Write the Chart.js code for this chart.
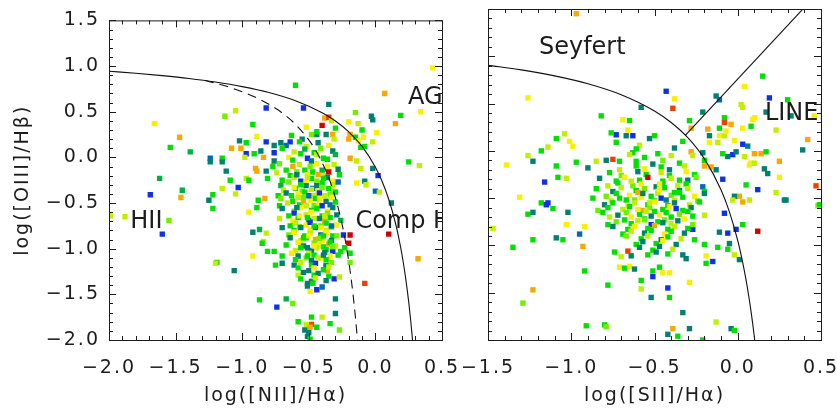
<!DOCTYPE html>
<html>
<head>
<meta charset="utf-8">
<script src="https://cdn.jsdelivr.net/npm/chart.js@4.4.1/dist/chart.umd.min.js"></script>
<style>
  html, body { margin: 0; padding: 0; background: #fff; }
  #wrap { position: relative; width: 837px; height: 412px; overflow: hidden; }
  #nii { position: absolute; left: 0; top: 0; }
  #sii { position: absolute; left: 458px; top: 0; }
</style>
</head>
<body>
<div id="wrap">
  <canvas id="nii" width="462" height="412"></canvas>
  <canvas id="sii" width="379" height="412"></canvas>
</div>
<script>
// colour levels used for the galaxies (blue -> red)
const colorLevels = ['#1030e8', '#0068b8', '#008070', '#00b040', '#00e000', '#70f000',
                     '#c0f000', '#f8f000', '#f8a800', '#f04000', '#d00000'];

const niiTicks = [-2.0, -1.5, -1.0, -0.5, 0.0, 0.5];
const siiTicks = [-1.5, -1.0, -0.5, 0.0, 0.5];
const oiiiTicks = [-2.0, -1.5, -1.0, -0.5, 0.0, 0.5, 1.0, 1.5];

// demarcation curves
const niiKewleyX = [-2.0, -1.8, -1.6, -1.4, -1.2, -1.0, -0.8, -0.6, -0.4, -0.3, -0.2, -0.1, 0.0, 0.05, 0.1, 0.15, 0.175, 0.2, 0.225, 0.25, 0.265, 0.279];
const niiKewleyY = [0.943, 0.921, 0.895, 0.864, 0.825, 0.775, 0.710, 0.620, 0.489, 0.398, 0.280, 0.120, -0.108, -0.262, -0.459, -0.716, -0.878, -1.069, -1.300, -1.583, -1.786, -2.004];
const niiKauffX = [-1.28, -1.2, -1.1, -1.0, -0.9, -0.8, -0.7, -0.6, -0.5, -0.45, -0.4, -0.35, -0.3, -0.25, -0.225, -0.2, -0.185, -0.17, -0.15, -0.135];
const niiKauffY = [0.841, 0.812, 0.770, 0.719, 0.658, 0.582, 0.487, 0.362, 0.191, 0.080, -0.056, -0.225, -0.443, -0.733, -0.918, -1.140, -1.296, -1.473, -1.750, -1.997];
const siiKewleyX = [-1.5, -1.3, -1.1, -0.9, -0.7, -0.5, -0.4, -0.3, -0.2, -0.1, -0.05, 0.0, 0.02, 0.04, 0.055, 0.07, 0.08, 0.09, 0.102];
const siiKewleyY = [0.904, 0.856, 0.793, 0.710, 0.594, 0.422, 0.300, 0.139, -0.085, -0.414, -0.646, -0.950, -1.100, -1.271, -1.417, -1.580, -1.700, -1.830, -2.003];
const siiLinerX = [-0.315, 0.5];
const siiLinerY = [0.165, 1.705];

// galaxies: [log NII/Ha, log OIII/Hb, colour level]
const niiGalaxies = [
  [0.43, 0.98, 7], [-0.60, 0.79, 4], [-0.35, 0.58, 2], [0.07, 0.70, 8], [0.34, 0.50, 7], [0.19, 0.46, 4],
  [0.15, 0.37, 8], [-0.03, 0.45, 2], [-0.02, 0.41, 2], [0.01, 0.27, 7], [-0.02, 0.17, 6], [0.25, -0.05, 4],
  [0.33, -0.09, 6], [-0.15, 0.49, 5], [-0.20, 0.39, 7], [-0.13, 0.37, 6], [-0.10, 0.30, 4], [-0.19, 0.25, 8],
  [-0.15, 0.22, 4], [-0.09, 0.22, 7], [-0.13, 0.18, 7], [-0.08, 0.12, 4], [-0.11, 0.11, 4], [-0.02, -0.12, 2],
  [0.02, -0.20, 0], [-0.08, -0.26, 2], [-0.07, -0.30, 6], [-0.14, -0.28, 7], [-0.19, -0.01, 8], [-0.14, -0.04, 6],
  [-0.11, -0.12, 6], [0.00, -0.37, 1], [0.03, -0.38, 6], [0.12, -0.50, 2], [-0.40, 0.35, 10], [-0.38, 0.43, 8],
  [-0.35, 0.44, 9], [-0.33, 0.40, 6], [-0.54, 0.54, 0], [-0.82, 0.54, 0], [-0.52, 0.33, 7], [-0.44, 0.25, 2],
  [-0.44, 0.28, 4], [-0.30, 0.32, 4], [-0.37, 0.25, 2], [-0.32, 0.25, 8], [-0.31, 0.20, 6], [-0.20, 0.20, 8],
  [-1.05, 0.51, 6], [-1.13, 0.45, 5], [-0.92, 0.36, 4], [-0.89, 0.23, 7], [-1.66, 0.37, 7], [-1.47, 0.22, 8],
  [-1.54, 0.11, 4], [-1.39, 0.06, 3], [-1.62, -0.23, 3], [-1.45, -0.36, 3], [-1.69, -0.41, 0], [-1.46, -0.44, 8],
  [-1.25, -0.47, 2], [-1.22, -0.41, 4], [-1.24, -0.01, 1], [-1.24, -0.05, 2], [-1.15, -0.01, 4], [-1.15, -0.05, 2],
  [-1.12, -0.15, 2], [-1.08, 0.10, 8], [-1.01, 0.10, 8], [-1.02, 0.18, 2], [-0.97, 0.16, 4], [-0.97, 0.04, 0],
  [-0.98, 0.00, 6], [-1.09, -0.25, 4], [-1.15, -0.34, 6], [-1.03, -0.33, 0], [-1.05, -0.40, 6], [-0.97, -0.23, 6],
  [-0.90, -0.12, 8], [-0.89, -0.15, 8], [-0.95, -0.25, 4], [-0.91, 0.04, 4], [-0.84, 0.00, 8], [-0.82, 0.17, 0],
  [-0.76, 0.13, 2], [-0.71, 0.16, 2], [-0.64, 0.17, 0], [-0.86, 0.07, 2], [-0.76, 0.05, 0], [-0.82, -0.15, 2],
  [-0.81, -0.23, 4], [-0.77, -0.10, 4], [-0.76, -0.04, 2], [-0.88, -0.47, 4], [-0.83, -0.45, 8], [-0.89, -0.55, 4],
  [-1.99, -0.64, 6], [-1.88, -0.65, 6], [-1.55, -0.69, 5], [-1.60, -0.84, 0], [-1.22, -0.56, 4], [-0.95, -0.60, 7],
  [-0.92, -0.82, 2], [-0.87, -0.79, 3], [-0.82, -0.83, 6], [-0.84, -0.92, 6], [-0.85, -0.94, 4], [-0.92, -1.08, 7],
  [-0.81, -1.03, 4], [-0.76, -1.03, 4], [-0.70, -1.08, 4], [-0.75, -1.18, 4], [-0.70, -1.16, 2], [-1.19, -1.15, 4],
  [-1.20, -1.16, 6], [-1.06, -1.24, 2], [-0.87, -1.56, 4], [-0.67, -1.55, 3], [-0.62, -1.60, 5], [-0.74, -1.64, 0],
  [-0.58, -1.80, 4], [-0.48, -1.75, 4], [-0.40, -1.75, 6], [-0.30, -1.71, 2], [-0.34, -1.82, 4], [-0.27, -1.89, 5],
  [-0.48, -1.83, 9], [-0.52, -1.83, 6], [-0.49, -1.86, 8], [-0.44, -1.86, 4], [-0.53, -1.89, 2], [-0.50, -1.92, 2],
  [-0.51, -1.96, 2], [-0.49, -1.99, 4], [-0.08, -1.38, 9], [0.32, -1.11, 8], [0.10, -0.84, 10], [-0.19, -0.85, 10],
  [-0.24, -0.85, 0], [-0.20, -0.94, 10], [-0.19, -1.05, 4], [-0.19, -1.15, 5], [-0.23, -0.99, 4], [-0.28, -1.07, 4],
  [-0.26, -1.03, 4], [-0.32, -1.03, 0], [-0.31, -1.33, 0], [-0.27, -1.31, 6], [-0.30, -1.55, 2], [-0.36, -1.24, 8],
  [-0.37, -1.18, 4], [-0.44, -1.45, 0], [-0.49, -1.47, 7], [-0.47, -1.36, 4], [-0.51, -1.38, 2], [-0.35, -0.95, 8],
  [-0.40, -0.91, 7], [-0.32, -0.86, 4],
  // dense star-forming branch
  [-0.63, 0.24, 4], [-0.55, 0.20, 2], [-0.48, 0.25, 5],
  [-0.67, 0.13, 1], [-0.57, 0.17, 4], [-0.52, 0.12, 6], [-0.43, 0.16, 2], [-0.35, 0.13, 7],
  [-0.70, 0.10, 4], [-0.61, 0.06, 6], [-0.53, 0.09, 3], [-0.46, 0.05, 4], [-0.41, 0.10, 5], [-0.32, 0.07, 2],
  [-0.65, 0.00, 7], [-0.56, 0.04, 4], [-0.51, -0.01, 0], [-0.44, 0.03, 6], [-0.39, -0.01, 4], [-0.30, 0.03, 3],
  [-0.72, -0.07, 5], [-0.62, -0.03, 4], [-0.57, -0.08, 6], [-0.48, -0.04, 2], [-0.44, -0.07, 7], [-0.36, -0.02, 4], [-0.31, -0.08, 6],
  [-0.67, -0.14, 4], [-0.62, -0.10, 8], [-0.53, -0.14, 4], [-0.49, -0.10, 5], [-0.40, -0.14, 3], [-0.36, -0.10, 7], [-0.28, -0.13, 2],
  [-0.74, -0.17, 6], [-0.64, -0.20, 4], [-0.59, -0.16, 5], [-0.51, -0.19, 7], [-0.47, -0.16, 4], [-0.39, -0.20, 6], [-0.35, -0.16, 10], [-0.27, -0.19, 4],
  [-0.70, -0.25, 4], [-0.61, -0.22, 6], [-0.56, -0.26, 0], [-0.48, -0.23, 4], [-0.44, -0.26, 5], [-0.36, -0.22, 2], [-0.32, -0.26, 7],
  [-0.71, -0.31, 3], [-0.65, -0.27, 5], [-0.56, -0.30, 4], [-0.52, -0.27, 7], [-0.44, -0.31, 2], [-0.40, -0.28, 4], [-0.32, -0.30, 6], [-0.28, -0.27, 1],
  [-0.69, -0.36, 6], [-0.60, -0.34, 4], [-0.55, -0.37, 5], [-0.47, -0.34, 1], [-0.43, -0.37, 7], [-0.35, -0.34, 4], [-0.31, -0.37, 6],
  [-0.73, -0.42, 4], [-0.67, -0.39, 2], [-0.58, -0.41, 7], [-0.53, -0.38, 4], [-0.46, -0.42, 6], [-0.42, -0.39, 0], [-0.34, -0.41, 5], [-0.30, -0.38, 4],
  [-0.71, -0.45, 5], [-0.62, -0.48, 4], [-0.58, -0.44, 6], [-0.49, -0.47, 7], [-0.45, -0.45, 4], [-0.37, -0.48, 2], [-0.33, -0.44, 7],
  [-0.72, -0.53, 4], [-0.66, -0.50, 6], [-0.57, -0.52, 4], [-0.54, -0.49, 8], [-0.46, -0.53, 5], [-0.42, -0.50, 7], [-0.34, -0.52, 1], [-0.30, -0.49, 4],
  [-0.70, -0.56, 2], [-0.61, -0.59, 5], [-0.56, -0.55, 7], [-0.48, -0.58, 4], [-0.44, -0.56, 6], [-0.36, -0.59, 7], [-0.32, -0.55, 2],
  [-0.65, -0.64, 4], [-0.61, -0.61, 0], [-0.52, -0.63, 6], [-0.48, -0.60, 7], [-0.40, -0.64, 4], [-0.36, -0.61, 5], [-0.29, -0.63, 2],
  [-0.72, -0.67, 6], [-0.62, -0.70, 7], [-0.58, -0.66, 4], [-0.50, -0.69, 2], [-0.46, -0.67, 6], [-0.38, -0.70, 8], [-0.34, -0.66, 4], [-0.26, -0.69, 3],
  [-0.64, -0.75, 4], [-0.60, -0.72, 6], [-0.52, -0.74, 7], [-0.49, -0.71, 0], [-0.41, -0.75, 5], [-0.37, -0.72, 4], [-0.29, -0.74, 7],
  [-0.70, -0.77, 2], [-0.61, -0.80, 4], [-0.57, -0.76, 5], [-0.49, -0.79, 7], [-0.45, -0.77, 2], [-0.37, -0.80, 6], [-0.33, -0.76, 4],
  [-0.65, -0.85, 5], [-0.61, -0.82, 7], [-0.53, -0.86, 4], [-0.49, -0.83, 6], [-0.41, -0.85, 1], [-0.37, -0.82, 7], [-0.29, -0.86, 5],
  [-0.64, -0.88, 2], [-0.56, -0.91, 6], [-0.52, -0.88, 4], [-0.45, -0.90, 8], [-0.41, -0.87, 4], [-0.33, -0.91, 2],
  [-0.67, -0.96, 4], [-0.58, -0.93, 7], [-0.54, -0.97, 2], [-0.46, -0.94, 5], [-0.42, -0.96, 7], [-0.34, -0.93, 4], [-0.30, -0.97, 6],
  [-0.60, -1.02, 6], [-0.56, -0.99, 4], [-0.48, -1.02, 1], [-0.44, -0.99, 6], [-0.37, -1.01, 4], [-0.32, -0.98, 5],
  [-0.63, -1.05, 7], [-0.58, -1.08, 2], [-0.50, -1.05, 6], [-0.46, -1.07, 4], [-0.38, -1.04, 2], [-0.34, -1.08, 7],
  [-0.60, -1.12, 4], [-0.52, -1.10, 5], [-0.48, -1.13, 2], [-0.41, -1.10, 7], [-0.37, -1.12, 4],
  [-0.61, -1.18, 2], [-0.56, -1.15, 6], [-0.48, -1.18, 4], [-0.45, -1.16, 0], [-0.37, -1.19, 2], [-0.33, -1.15, 5],
  [-0.58, -1.21, 4], [-0.50, -1.24, 2], [-0.46, -1.21, 7], [-0.39, -1.23, 4], [-0.35, -1.20, 6],
  [-0.58, -1.29, 6], [-0.54, -1.26, 2], [-0.46, -1.29, 4], [-0.43, -1.27, 2], [-0.35, -1.30, 4],
  [-0.56, -1.33, 4], [-0.48, -1.36, 2], [-0.45, -1.32, 6], [-0.37, -1.35, 2],
  [-0.51, -1.41, 2], [-0.47, -1.38, 4], [-0.40, -1.42, 1],
  [-0.59, -0.19, 2], [-0.51, -0.22, 6], [-0.43, -0.19, 8], [-0.39, -0.23, 4],
  [-0.61, -0.33, 7], [-0.52, -0.31, 2], [-0.48, -0.35, 6], [-0.40, -0.33, 5],
  [-0.63, -0.42, 4], [-0.54, -0.44, 5], [-0.50, -0.42, 1], [-0.42, -0.45, 7], [-0.38, -0.42, 6],
  [-0.59, -0.55, 2], [-0.52, -0.53, 6], [-0.44, -0.56, 4], [-0.40, -0.53, 0],
  [-0.57, -0.64, 7], [-0.51, -0.66, 4], [-0.42, -0.67, 2], [-0.38, -0.64, 6],
  [-0.56, -0.77, 2], [-0.46, -0.75, 4], [-0.41, -0.77, 7], [-0.33, -0.75, 1],
  [-0.54, -0.88, 4], [-0.50, -0.86, 7], [-0.42, -0.89, 5], [-0.39, -0.86, 4],
  [-0.51, -0.99, 2], [-0.46, -0.97, 7], [-0.39, -0.98, 4],
  [-0.51, -1.08, 4], [-0.43, -1.10, 6], [-0.39, -1.07, 2]
];

// galaxies: [log SII/Ha, log OIII/Hb, colour level]
const siiGalaxies = [
  [-0.97, 1.45, 8], [0.15, 0.79, 4], [0.04, 0.68, 7], [-0.43, 0.63, 0], [-0.38, 0.55, 7], [-0.39, 0.45, 9],
  [-1.26, 0.56, 7], [-0.58, 0.46, 2], [-0.13, 0.58, 2], [-0.11, 0.54, 1], [0.19, 0.56, 0], [0.30, 0.54, 4],
  [0.02, 0.49, 6], [0.03, 0.46, 6], [0.17, 0.41, 2], [0.32, 0.37, 2], [0.46, 0.37, 7], [0.09, 0.33, 7],
  [0.10, 0.35, 7], [0.08, 0.26, 4], [0.03, 0.24, 7], [0.23, 0.22, 6], [0.42, 0.12, 8], [0.39, 0.01, 2],
  [-0.21, 0.41, 2], [-0.29, 0.32, 4], [-0.28, 0.24, 8], [-0.08, 0.35, 4], [-0.08, 0.30, 9], [-0.11, 0.24, 4],
  [-0.04, 0.28, 8], [-0.18, 0.23, 8], [-0.17, 0.16, 2], [-0.11, 0.16, 7], [-0.08, 0.16, 6], [-0.07, 0.21, 7],
  [-0.12, 0.09, 6], [-0.17, 0.09, 7], [-0.02, 0.11, 7], [0.03, 0.07, 0], [0.06, 0.05, 2], [-0.38, 0.03, 2],
  [-0.33, 0.10, 4], [-0.28, -0.01, 8], [-0.27, -0.05, 6], [-0.21, -0.02, 2], [-0.20, -0.10, 4], [-0.09, -0.03, 4],
  [-0.06, -0.06, 2], [-0.03, -0.04, 0], [-0.01, -0.01, 2], [0.04, -0.06, 6], [0.10, -0.03, 8], [0.14, -0.03, 8],
  [0.17, -0.01, 4], [0.25, -0.11, 8], [0.08, -0.13, 7], [0.07, -0.15, 7], [0.10, -0.13, 6], [0.16, -0.19, 2],
  [0.18, -0.24, 2], [0.25, -0.28, 7], [0.47, -0.37, 9], [0.28, -0.52, 2], [0.23, -0.44, 6], [0.48, -0.58, 6],
  [0.12, -0.41, 0], [0.07, -0.52, 6], [0.03, -0.54, 8], [0.01, -0.48, 8], [0.05, -0.36, 4], [-0.02, -0.48, 2],
  [-0.03, -0.52, 6], [-0.09, -0.30, 0], [-0.08, -0.66, 0], [-0.13, -0.20, 2], [-0.16, -0.17, 8], [-0.20, -0.16, 8],
  [-1.39, -0.15, 7], [-1.26, -0.05, 6], [-1.23, -0.11, 2], [-1.18, 0.00, 4], [-1.14, 0.04, 6], [-1.09, 0.13, 4],
  [-1.04, 0.18, 6], [-1.01, 0.10, 7], [-0.99, 0.05, 7], [-1.09, -0.16, 4], [-1.08, -0.28, 4], [-1.03, -0.29, 6],
  [-0.97, -0.12, 4], [-0.90, -0.18, 2], [-0.85, -0.11, 6], [-0.79, -0.10, 2], [-1.16, -0.33, 0], [-1.31, -0.49, 7],
  [-1.18, -0.55, 4], [-1.14, -0.55, 0], [-0.82, 0.37, 4], [-0.69, 0.33, 7], [-0.65, 0.32, 4], [-0.66, 0.22, 7],
  [-0.73, 0.17, 0], [-0.76, 0.19, 4], [-0.67, 0.16, 2], [-0.63, 0.16, 0], [-0.73, 0.09, 4], [-0.53, 0.13, 2],
  [-0.50, 0.16, 4], [-0.59, 0.06, 6], [-0.61, 0.02, 4], [-0.63, -0.02, 4], [-0.56, -0.07, 4], [-0.48, -0.03, 4],
  [-0.40, -0.05, 6], [-0.75, -0.09, 9], [-0.71, -0.11, 4], [-0.65, -0.04, 6],
  [-1.47, -0.82, 6], [-1.35, -1.02, 4], [-1.26, -0.67, 4], [-1.23, -0.65, 2], [-1.23, -0.94, 4], [-1.23, -1.47, 8],
  [-1.29, -1.61, 5], [-1.09, -0.92, 2], [-1.05, -0.94, 4], [-1.03, -0.78, 7], [-1.11, -0.61, 4], [-1.15, -0.57, 0],
  [-1.02, -0.65, 2], [-0.92, -0.80, 7], [-0.95, -0.88, 1], [-0.93, -1.01, 8], [-0.92, -1.27, 4], [-0.91, -1.85, 4],
  [-0.80, -1.84, 4], [-0.79, -1.86, 5], [-0.78, -1.42, 4], [-0.74, -1.07, 4], [-0.70, -1.12, 6], [-0.71, -1.23, 7],
  [-0.68, -1.24, 4], [-0.65, -1.22, 7], [-0.62, -1.25, 2], [-0.66, -1.06, 9], [-0.64, -1.11, 2], [-0.58, -1.46, 6],
  [-0.58, -1.37, 4], [-0.52, -1.55, 2], [-0.51, -1.33, 0], [-0.51, -1.27, 4], [-0.47, -1.23, 4], [-0.45, -1.29, 7],
  [-0.41, -1.29, 7], [-0.41, -1.55, 4], [-0.42, -1.45, 0], [-0.42, -1.94, 2], [-0.36, -1.96, 4], [-0.33, -1.71, 2],
  [-0.29, -1.39, 7], [-0.39, -1.88, 8], [-0.29, -1.88, 2], [-0.21, -2.00, 4], [-0.13, -1.81, 6], [-0.04, -1.88, 2],
  [-0.02, -1.90, 4], [-0.15, -1.17, 0], [-0.19, -1.11, 7], [-0.19, -1.19, 4], [-0.02, -1.10, 6], [0.01, -1.15, 2],
  [-0.06, -1.04, 4], [-0.12, -1.02, 4], [-0.05, -0.98, 2], [0.03, -0.78, 4], [0.12, -0.85, 10], [-0.01, -0.83, 0],
  [-0.06, -0.87, 0], [-0.11, -0.86, 2], [-0.20, -0.99, 4], [-0.26, -0.94, 4], [-0.27, -0.83, 0], [0.29, -0.52, 2],
  [0.49, -0.57, 4], [-0.31, -1.14, 2], [-0.33, -1.10, 2],
  // dense star-forming cloud
  [-0.61, -0.11, 4], [-0.51, -0.14, 2], [-0.45, -0.10, 5], [-0.35, -0.13, 4],
  [-0.71, -0.20, 6], [-0.61, -0.16, 4], [-0.56, -0.19, 7], [-0.46, -0.17, 4], [-0.41, -0.20, 2], [-0.32, -0.16, 6],
  [-0.77, -0.23, 4], [-0.70, -0.26, 5], [-0.60, -0.22, 2], [-0.55, -0.25, 4], [-0.46, -0.23, 6], [-0.41, -0.26, 4], [-0.31, -0.22, 7], [-0.26, -0.25, 4],
  [-0.83, -0.29, 2], [-0.73, -0.32, 4], [-0.68, -0.28, 7], [-0.59, -0.31, 4], [-0.54, -0.28, 10], [-0.45, -0.32, 4], [-0.40, -0.29, 6], [-0.30, -0.31, 2], [-0.25, -0.28, 5],
  [-0.78, -0.37, 6], [-0.72, -0.34, 4], [-0.63, -0.37, 5], [-0.58, -0.35, 7], [-0.49, -0.38, 2], [-0.45, -0.34, 4], [-0.36, -0.37, 6], [-0.31, -0.35, 4], [-0.21, -0.38, 1],
  [-0.85, -0.40, 4], [-0.75, -0.43, 2], [-0.70, -0.39, 6], [-0.61, -0.42, 4], [-0.56, -0.40, 5], [-0.48, -0.43, 7], [-0.44, -0.39, 4], [-0.35, -0.42, 2], [-0.30, -0.40, 6], [-0.20, -0.43, 4],
  [-0.79, -0.48, 5], [-0.73, -0.45, 4], [-0.65, -0.47, 7], [-0.60, -0.44, 8], [-0.52, -0.48, 4], [-0.48, -0.45, 6], [-0.40, -0.47, 5], [-0.35, -0.44, 4], [-0.26, -0.48, 7], [-0.20, -0.45, 2],
  [-0.87, -0.50, 4], [-0.76, -0.53, 6], [-0.71, -0.50, 4], [-0.62, -0.52, 5], [-0.58, -0.49, 7], [-0.50, -0.53, 4], [-0.46, -0.50, 0], [-0.38, -0.52, 6], [-0.33, -0.49, 4], [-0.24, -0.53, 5],
  [-0.80, -0.57, 2], [-0.75, -0.55, 4], [-0.66, -0.58, 7], [-0.62, -0.55, 6], [-0.54, -0.57, 4], [-0.50, -0.54, 7], [-0.42, -0.58, 4], [-0.38, -0.55, 2], [-0.29, -0.57, 6], [-0.23, -0.54, 4],
  [-0.84, -0.63, 5], [-0.78, -0.60, 4], [-0.69, -0.62, 6], [-0.65, -0.59, 4], [-0.57, -0.63, 8], [-0.53, -0.60, 5], [-0.45, -0.62, 4], [-0.41, -0.59, 7], [-0.33, -0.63, 4], [-0.28, -0.60, 2],
  [-0.81, -0.65, 4], [-0.72, -0.68, 2], [-0.67, -0.65, 5], [-0.59, -0.67, 4], [-0.55, -0.64, 6], [-0.47, -0.68, 7], [-0.43, -0.65, 4], [-0.35, -0.67, 5], [-0.30, -0.64, 4], [-0.20, -0.68, 6],
  [-0.77, -0.70, 6], [-0.68, -0.73, 4], [-0.64, -0.70, 7], [-0.56, -0.72, 4], [-0.52, -0.69, 2], [-0.44, -0.73, 5], [-0.40, -0.70, 4], [-0.32, -0.72, 7], [-0.27, -0.69, 4],
  [-0.78, -0.78, 4], [-0.73, -0.75, 5], [-0.64, -0.77, 4], [-0.60, -0.74, 6], [-0.52, -0.78, 0], [-0.48, -0.75, 4], [-0.40, -0.77, 6], [-0.36, -0.74, 2], [-0.27, -0.78, 5],
  [-0.75, -0.80, 2], [-0.66, -0.83, 4], [-0.62, -0.80, 7], [-0.54, -0.82, 4], [-0.50, -0.79, 8], [-0.42, -0.83, 4], [-0.38, -0.80, 6], [-0.30, -0.82, 4],
  [-0.69, -0.88, 4], [-0.64, -0.85, 6], [-0.56, -0.87, 2], [-0.52, -0.84, 4], [-0.44, -0.88, 7], [-0.40, -0.85, 4], [-0.32, -0.87, 2],
  [-0.67, -0.90, 5], [-0.58, -0.93, 4], [-0.54, -0.90, 6], [-0.46, -0.94, 2], [-0.42, -0.91, 4], [-0.34, -0.93, 6],
  [-0.61, -0.99, 4], [-0.57, -0.96, 2], [-0.49, -0.98, 4], [-0.45, -0.95, 7], [-0.37, -0.99, 2],
  [-0.59, -1.02, 2], [-0.51, -1.05, 4], [-0.47, -1.01, 2], [-0.39, -1.04, 6],
  [-0.54, -1.10, 4], [-0.49, -1.07, 2], [-0.42, -1.09, 4],
  [-0.64, -0.32, 6], [-0.47, -0.35, 7], [-0.35, -0.31, 4],
  [-0.57, -0.45, 2], [-0.47, -0.41, 7], [-0.38, -0.44, 4],
  [-0.67, -0.52, 4], [-0.53, -0.55, 6], [-0.43, -0.52, 2],
  [-0.60, -0.62, 7], [-0.50, -0.64, 4], [-0.37, -0.61, 0],
  [-0.56, -0.73, 5], [-0.45, -0.76, 2]
];

const niiRegionText = ['HII', 'Comp HII', 'AGN'];
const niiRegionAt = { x: [-1.84, -0.15, 0.245], y: [-0.71, -0.71, 0.65] };
const siiRegionText = ['Seyfert', 'LINER'];
const siiRegionAt = { x: [-1.194, 0.163], y: [1.09, 0.392] };

const textColor = '#1c1c1c';
const axisFont = { family: 'DejaVu Sans', size: 19 };
const fmtTick = v => (v < 0 ? '\u2212' : '') + Math.abs(v).toFixed(1);

function pairUp(xs, ys) {
  return xs.map((x, i) => ({ x: x, y: ys[i] }));
}

function galaxyDataset(points) {
  return {
    data: points.map(p => ({ x: p[0], y: p[1] })),
    pointStyle: 'rect',
    pointRadius: 3.8,
    pointHoverRadius: 3.8,
    pointBorderWidth: 0,
    pointBackgroundColor: points.map(p => colorLevels[p[2]]),
    clip: 0,
    order: 2
  };
}

function curveDataset(xs, ys, dash) {
  return {
    data: pairUp(xs, ys),
    showLine: true,
    borderColor: '#111',
    borderWidth: 1.1,
    borderDash: dash || [],
    pointRadius: 0,
    cubicInterpolationMode: 'monotone',
    clip: 0,
    order: 1
  };
}

// IDL style box with inward major/minor ticks on all four sides
const boxPlugin = {
  id: 'idlBox',
  beforeDraw(chart) {
    chart.ctx.letterSpacing = '2px';
  },
  afterDraw(chart) {
    const { ctx, chartArea: a } = chart;
    const xs = chart.scales.x, ys = chart.scales.y;
    ctx.save();
    ctx.strokeStyle = '#1c1c1c';
    ctx.lineWidth = 1;
    ctx.strokeRect(a.left + 0.5, a.top + 0.5, a.right - a.left, a.bottom - a.top);
    ctx.beginPath();
    for (let k = Math.round(xs.min * 10); k <= Math.round(xs.max * 10); k++) {
      const px = Math.round(xs.getPixelForValue(k / 10)) + 0.5;
      const len = k % 5 === 0 ? 7 : 4;
      ctx.moveTo(px, a.bottom); ctx.lineTo(px, a.bottom - len);
      ctx.moveTo(px, a.top); ctx.lineTo(px, a.top + len);
    }
    for (let k = Math.round(ys.min * 10); k <= Math.round(ys.max * 10); k++) {
      const py = Math.round(ys.getPixelForValue(k / 10)) + 0.5;
      const len = k % 5 === 0 ? 7 : 4;
      ctx.moveTo(a.left, py); ctx.lineTo(a.left + len, py);
      ctx.moveTo(a.right, py); ctx.lineTo(a.right - len, py);
    }
    ctx.stroke();
    ctx.restore();
  }
};

function regionLabelPlugin(texts, at) {
  return {
    id: 'regionLabels',
    afterDatasetsDraw(chart) {
      const { ctx, chartArea: a } = chart;
      ctx.save();
      ctx.beginPath();
      ctx.rect(a.left, a.top, a.right - a.left, a.bottom - a.top);
      ctx.clip();
      ctx.letterSpacing = '0px';
      ctx.font = '24px "DejaVu Sans"';
      ctx.fillStyle = textColor;
      ctx.textAlign = 'left';
      ctx.textBaseline = 'middle';
      texts.forEach((t, i) => {
        ctx.fillText(t, chart.scales.x.getPixelForValue(at.x[i]), chart.scales.y.getPixelForValue(at.y[i]));
      });
      ctx.restore();
    }
  };
}

function makePanel(id, cfg) {
  new Chart(document.getElementById(id), {
    type: 'scatter',
    data: { datasets: cfg.datasets },
    plugins: [boxPlugin, regionLabelPlugin(cfg.texts, cfg.at)],
    options: {
      responsive: false,
      animation: false,
      events: [],
      layout: { padding: { top: 9, right: cfg.padRight, left: 0, bottom: 0 } },
      plugins: { legend: { display: false }, tooltip: { enabled: false } },
      scales: {
        x: {
          type: 'linear',
          min: cfg.xTicks[0],
          max: cfg.xTicks[cfg.xTicks.length - 1],
          afterBuildTicks: s => { s.ticks = cfg.xTicks.map(v => ({ value: v })); },
          afterFit: s => { s.height = 72; s.paddingLeft = 0; s.paddingRight = 0; },
          ticks: { callback: fmtTick, font: axisFont, color: textColor, padding: 17,
                   maxRotation: 0, minRotation: 0, autoSkip: false },
          grid: { display: false, drawTicks: false },
          border: { display: false },
          title: { display: true, text: cfg.xTitle, font: axisFont, color: textColor,
                   padding: { top: 0, bottom: 5 } }
        },
        y: {
          type: 'linear',
          min: -2.0,
          max: 1.5,
          afterBuildTicks: s => { s.ticks = oiiiTicks.map(v => ({ value: v })); },
          afterFit: s => { s.width = cfg.yWidth; },
          ticks: { display: cfg.yLabels, callback: fmtTick, font: axisFont, color: textColor, padding: 9 },
          grid: { display: false, drawTicks: false },
          border: { display: false },
          title: { display: cfg.yLabels, text: 'log([OIII]/H\u03B2)', font: axisFont, color: textColor,
                   padding: { top: 12, bottom: 0 } }
        }
      }
    }
  });
}

makePanel('nii', {
  datasets: [
    galaxyDataset(niiGalaxies),
    curveDataset(niiKewleyX, niiKewleyY),
    curveDataset(niiKauffX, niiKauffY, [9, 6])
  ],
  xTicks: niiTicks,
  xTitle: 'log([NII]/H\u03B1)',
  texts: niiRegionText,
  at: niiRegionAt,
  yWidth: 109,
  yLabels: true,
  padRight: 20
});

makePanel('sii', {
  datasets: [
    galaxyDataset(siiGalaxies),
    curveDataset(siiKewleyX, siiKewleyY),
    curveDataset(siiLinerX, siiLinerY)
  ],
  xTicks: siiTicks,
  xTitle: 'log([SII]/H\u03B1)',
  texts: siiRegionText,
  at: siiRegionAt,
  yWidth: 30,
  yLabels: false,
  padRight: 16
});
</script>
</body>
</html>
